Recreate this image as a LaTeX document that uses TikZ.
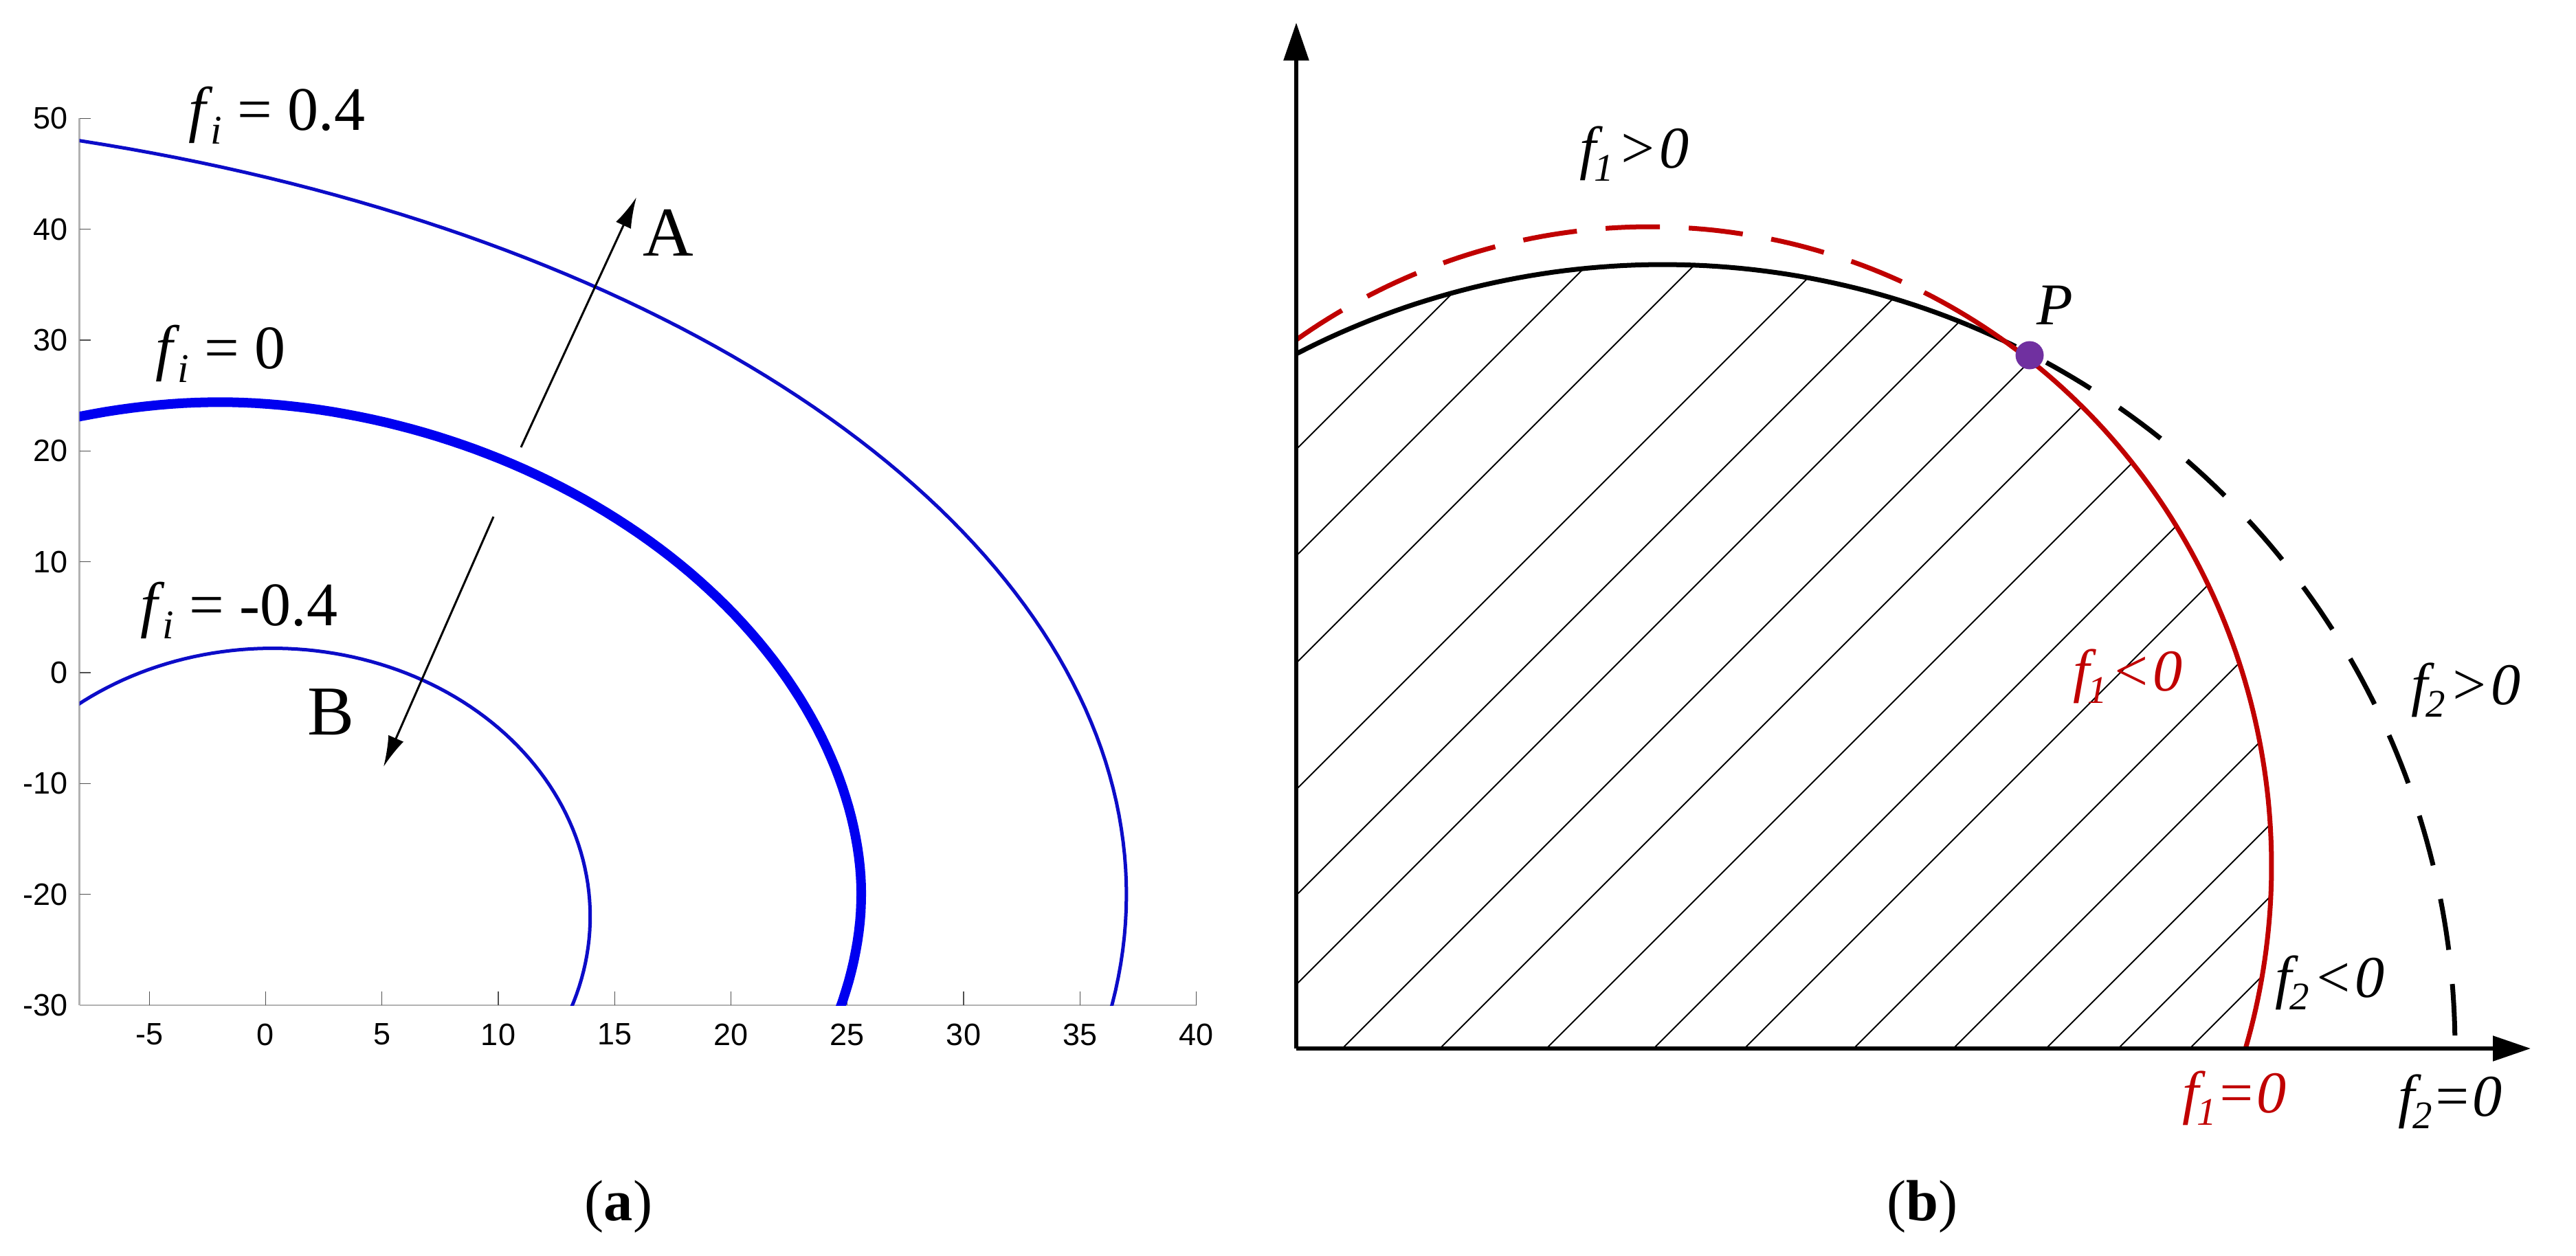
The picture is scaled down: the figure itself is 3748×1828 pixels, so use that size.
\documentclass[tikz,border=0pt]{standalone}
\usepackage{fontspec}
\setmainfont{Liberation Serif}
\newfontfamily\sansf{Liberation Sans}
\usepackage{graphicx}
\usetikzlibrary{arrows.meta}
\definecolor{curveblue}{RGB}{12,12,200}
\definecolor{thickblue}{RGB}{0,0,240}
\definecolor{axgray}{RGB}{178,178,178}
\definecolor{tickgray}{RGB}{80,80,80}
\definecolor{fred}{RGB}{192,0,0}
\definecolor{pdot}{RGB}{112,48,160}
\newcommand{\fsb}[1]{\textit{f}\kern-0.04em\raisebox{-0.22em}{\scalebox{0.66}{\textit{#1}}}}
\newcommand{\rel}[1]{\kern0.07em#1\kern0.03em}
\tikzset{
  ticklab/.style={font=\sansf\fontsize{12.8}{14}\selectfont, inner sep=0pt},
  fitext/.style={font=\fontsize{25.6}{30}\selectfont, inner sep=0pt},
  letter/.style={font=\fontsize{29}{34}\selectfont, inner sep=0pt},
  btext/.style={font=\fontsize{24.5}{29}\selectfont\itshape, inner sep=0pt},
  captext/.style={font=\fontsize{24}{28}\selectfont, inner sep=0pt},
  axa/.style={axgray, line width=0.025cm},
  tickc/.style={tickgray, line width=0.012cm},
  thinc/.style={curveblue, line width=0.05cm, line join=round},
  thickc/.style={thickblue, line width=0.14cm, line join=round},
  arr/.style={black, line width=0.03cm, -{Latex[length=0.45cm,width=0.24cm]}},
  axb/.style={black, line width=0.055cm, -{Triangle[length=0.55cm,width=0.36cm]}},
  hatch/.style={black, line width=0.02cm},
  blackc/.style={black, line width=0.07cm, line cap=butt},
  redc/.style={fred, line width=0.07cm, line cap=butt},
  reddash/.style={redc, dash pattern=on 0.79cm off 0.42cm},
  blackdash/.style={blackc, dash pattern=on 0.75cm off 0.5cm}
}
\begin{document}
\begin{tikzpicture}[x=0.01cm,y=-0.01cm]
\useasboundingbox[fill=white] (0,0) rectangle (3748,1828);

% ================= panel (a) =================
\begin{scope}[shift={(386.5,979)}, x=0.3383cm, y=0.16125cm]
  \draw[axa] (-8,-30) -- (40,-30);
  \draw[axa] (-8,-30) -- (-8,50);
  \foreach \v in {-20,-10,...,50} \draw[tickc] (-8,\v) -- ++(0.47,0);
  \foreach \u in {-5,0,...,40} \draw[tickc] (\u,-30) -- ++(0,1.24);
  \foreach \v [count=\k] in {-30,-20,...,50}
    \node[ticklab, anchor=east] (ylab\k) at ([xshift=-0.16cm]-8,\v) {\v};
  \foreach \u [count=\k] in {-5,0,...,40}
    \node[ticklab, anchor=north] (xlab\k) at ([yshift=-0.26cm]\u,-30) {\u};
  \begin{scope}
    \clip (-8,-30) rectangle (40,50);
    % f_i = 0.4
    \draw[thinc] plot[domain=77:-11, samples=90] ({-25+62*cos(\x)}, {-20+70.7*sin(\x)});
    % f_i = 0
    \draw[thickc] plot[domain=106:-16, samples=100]
      ({-2+27.6*cos(\x)*pow(abs(cos(\x))+0.0001,0.0526)}, {-20+44.4*sin(\x)*pow(abs(sin(\x))+0.0001,0.0526)});
    % f_i = -0.4
    \draw[thinc] plot[domain=130:-22, samples=90] ({0.3+13.65*cos(\x)}, {-22+24.2*sin(\x)});
  \end{scope}
\end{scope}

\node[fitext, anchor=base west] (lab04) at (274,190) {\fsb{i} = 0.4};
\node[fitext, anchor=base west] (lab0) at (226,537) {\fsb{i} = 0};
\node[fitext, anchor=base west] (labm04) at (204,910) {\fsb{i} = -0.4};

\coordinate (Atail) at (758,651);
\coordinate (Atip) at (926,287);
\coordinate (Btail) at (718,752);
\coordinate (Btip) at (558,1116);
\draw[arr] (Atail) -- (Atip);
\draw[arr] (Btail) -- (Btip);
\node[letter, anchor=base] (labA) at (972,373) {A};
\node[letter, anchor=base] (labB) at (482,1069) {B};

\node[captext, anchor=base] (capa) at (900,1776) {(\textbf{a})};

% ================= panel (b) =================
\begin{scope}
  \clip (1886,1526)
     -- plot[domain=117.6:62.4, samples=60] ({2420+1152*cos(\x)},{1526-1141*sin(\x)})
     -- plot[domain=52.6:-16.6, samples=70] ({2400+905*cos(\x)},{1260-930*sin(\x)})
     -- cycle;
  \foreach \xo in {1014,1169,1325,1509,1663,1793,1953,2095,2250,2406,2538,2697,2842,2977,3082,3186}
    \draw[hatch] (\xo,1526) -- ++(1400,-1400);
\end{scope}

% f2 = 0 (black)
\draw[blackc] plot[domain=117.6:67.3, samples=60] ({2420+1152*cos(\x)},{1526-1141*sin(\x)});
\draw[blackdash] plot[domain=67.3:0, samples=80] ({2420+1152*cos(\x)},{1526-1141*sin(\x)});
% f1 = 0 (red)
\draw[reddash] plot[domain=124.6:63.8, samples=70] ({2400+905*cos(\x)},{1260-930*sin(\x)});
\draw[redc] plot[domain=63.8:-16.6, samples=90] ({2400+905*cos(\x)},{1260-930*sin(\x)});

\coordinate (O) at (1886,1526);
\coordinate (Ytop) at (1886,33);
\coordinate (Xend) at (3682,1526);
\draw[axb] (O) -- (Ytop);
\draw[axb] (O) -- (Xend);

\node[circle, fill=pdot, minimum size=0.41cm, inner sep=0pt] (P) at (2953,517) {};
\node[btext, anchor=base] (labP) at (2990,473) {P};

\node[btext, anchor=base] (t1) at (2378,245) {\fsb{1}\rel{>}0};
\node[btext, anchor=base, text=fred] (t2) at (3096,1005) {\fsb{1}\rel{<}0};
\node[btext, anchor=base] (t3) at (3588,1025) {\fsb{2}\rel{>}0};
\node[btext, anchor=base] (t4) at (3390,1451) {\fsb{2}\rel{<}0};
\node[btext, anchor=base, text=fred] (t5) at (3251,1619) {\fsb{1}=0};
\node[btext, anchor=base] (t6) at (3565,1624) {\fsb{2}=0};

\node[captext, anchor=base] (capb) at (2797,1776) {(\textbf{b})};
\end{tikzpicture}
\end{document}
